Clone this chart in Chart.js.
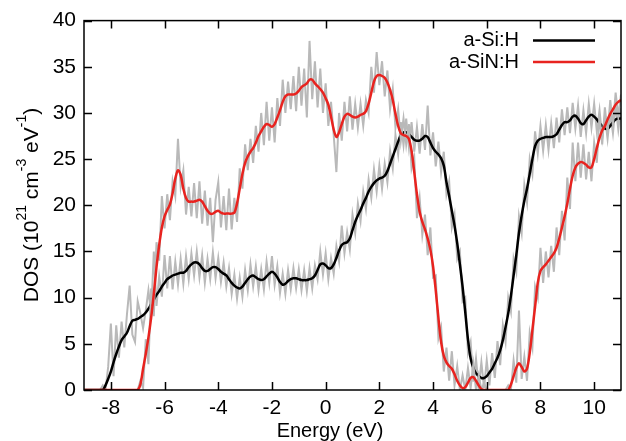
<!DOCTYPE html>
<html>
<head>
<meta charset="utf-8">
<script src="https://cdn.jsdelivr.net/npm/chart.js@4.4.1/dist/chart.umd.min.js"></script>
<style>
  html, body { margin: 0; padding: 0; background: #fff; }
</style>
</head>
<body>
<canvas id="dos" width="626" height="441"></canvas>
<script>
// energy grid (eV), one row per eV
const energies = [
  -9.0,-8.9,-8.8,-8.7,-8.6,-8.5,-8.4,-8.3,-8.2,-8.1,
  -8.0,-7.9,-7.8,-7.7,-7.6,-7.5,-7.4,-7.3,-7.2,-7.1,
  -7.0,-6.9,-6.8,-6.7,-6.6,-6.5,-6.4,-6.3,-6.2,-6.1,
  -6.0,-5.9,-5.8,-5.7,-5.6,-5.5,-5.4,-5.3,-5.2,-5.1,
  -5.0,-4.9,-4.8,-4.7,-4.6,-4.5,-4.4,-4.3,-4.2,-4.1,
  -4.0,-3.9,-3.8,-3.7,-3.6,-3.5,-3.4,-3.3,-3.2,-3.1,
  -3.0,-2.9,-2.8,-2.7,-2.6,-2.5,-2.4,-2.3,-2.2,-2.1,
  -2.0,-1.9,-1.8,-1.7,-1.6,-1.5,-1.4,-1.3,-1.2,-1.1,
  -1.0,-0.9,-0.8,-0.7,-0.6,-0.5,-0.4,-0.3,-0.2,-0.1,
  0.0,0.1,0.2,0.3,0.4,0.5,0.6,0.7,0.8,0.9,
  1.0,1.1,1.2,1.3,1.4,1.5,1.6,1.7,1.8,1.9,
  2.0,2.1,2.2,2.3,2.4,2.5,2.6,2.7,2.8,2.9,
  3.0,3.1,3.2,3.3,3.4,3.5,3.6,3.7,3.8,3.9,
  4.0,4.1,4.2,4.3,4.4,4.5,4.6,4.7,4.8,4.9,
  5.0,5.1,5.2,5.3,5.4,5.5,5.6,5.7,5.8,5.9,
  6.0,6.1,6.2,6.3,6.4,6.5,6.6,6.7,6.8,6.9,
  7.0,7.1,7.2,7.3,7.4,7.5,7.6,7.7,7.8,7.9,
  8.0,8.1,8.2,8.3,8.4,8.5,8.6,8.7,8.8,8.9,
  9.0,9.1,9.2,9.3,9.4,9.5,9.6,9.7,9.8,9.9,
  10.0,10.1,10.2,10.3,10.4,10.5,10.6,10.7,10.8,10.9,
  11.0
];

// a-Si:H, smoothed
const siSmooth = [
  0,0,0,0,0,0,0,0,0.5,1.2,
  2.0,3.0,3.9,4.7,5.4,5.8,6.2,6.9,7.5,7.6,
  7.7,7.9,8.1,8.4,8.8,9.3,9.8,10.3,10.7,11.2,
  11.6,12.0,12.2,12.4,12.5,12.6,12.7,12.7,12.9,13.3,
  13.6,13.8,13.8,13.6,13.2,12.9,12.9,13.1,13.3,13.3,
  13.1,12.8,12.6,12.4,12.0,11.6,11.3,11.1,11.0,11.2,
  11.6,12.0,12.3,12.4,12.2,12.0,11.9,12.0,12.3,12.6,
  12.8,12.6,12.2,11.7,11.4,11.5,11.8,12.0,12.1,12.1,
  12.0,11.9,11.9,11.9,12.0,12.1,12.4,13.0,13.6,13.7,
  13.5,13.2,13.2,13.6,14.3,15.1,15.7,15.9,16.0,16.4,
  17.3,18.2,18.9,19.5,20.2,20.8,21.5,22.0,22.4,22.7,
  22.9,23.0,23.2,23.7,24.5,25.3,26.1,26.9,27.6,27.9,
  27.9,27.7,27.4,27.1,27.0,27.0,27.2,27.5,27.4,26.8,
  26.2,25.8,25.5,25.1,24.3,22.5,21.0,19.4,17.8,15.9,
  13.6,11.2,8.4,5.5,3.4,2.4,1.8,1.5,1.3,1.3,
  1.5,1.9,2.3,2.9,3.5,4.3,5.4,6.8,8.3,10.2,
  12.4,14.6,17.0,18.9,20.5,21.8,23.4,25.0,26.4,27.0,
  27.2,27.3,27.4,27.4,27.4,27.5,27.7,28.2,28.7,29.0,
  29.0,29.2,29.6,29.7,29.4,28.9,28.8,29.2,29.6,29.8,
  29.6,29.3,28.9,28.6,28.3,28.3,28.6,29.0,29.3,29.4,
  29.4
];

// a-Si:H, raw (grey)
const siRaw = [
  0,0,0,0,0,0,0,0.5,0,2.5,
  7.2,1.5,7.0,3.5,7.4,4.6,8.2,11.3,6.0,5.2,
  9.6,8.3,6.7,8.6,10.8,8.2,15.0,9.1,12.3,10.1,
  14.6,11.0,14.5,10.9,13.9,11.4,14.2,11.5,14.5,12.0,
  14.8,12.4,15.0,12.2,14.6,11.6,14.2,12.0,14.9,12.1,
  14.3,11.7,13.8,11.2,13.2,10.4,12.5,9.9,12.2,10.1,
  13.0,10.8,13.6,11.2,13.4,10.8,13.1,10.9,13.9,11.6,
  14.5,11.4,13.4,10.5,12.6,10.4,13.0,10.9,13.2,11.0,
  13.1,10.8,13.0,10.7,13.2,11.0,13.5,12.0,15.0,12.5,
  14.8,12.0,14.3,12.6,15.6,13.9,17.8,14.8,17.1,15.2,
  19.0,17.0,20.2,18.3,21.5,19.6,22.8,20.8,23.9,21.5,
  24.3,21.8,24.5,22.5,25.9,24.0,27.6,25.5,29.0,26.5,
  29.4,26.3,29.0,25.8,28.5,25.6,28.8,26.0,30.8,25.4,
  27.9,24.2,26.9,23.6,25.8,21.2,22.6,17.6,19.0,14.2,
  15.0,9.6,10.0,4.0,5.2,0.9,3.4,0.3,3.0,0.2,
  3.2,0.5,4.0,1.3,5.3,2.7,7.0,5.2,10.0,8.5,
  14.2,12.8,18.8,17.0,22.2,20.3,25.0,23.4,28.0,25.6,
  28.6,25.9,28.7,26.0,28.9,26.2,29.5,26.8,30.4,27.6,
  30.6,27.8,31.1,28.3,30.8,27.4,30.3,27.8,31.0,28.4,
  31.0,28.0,30.3,27.3,29.6,27.2,30.0,27.8,30.8,28.2,
  30.5
];

// a-SiN:H, smoothed
const sinSmooth = [
  0,0,0,0,0,0,0,0,0,0,
  0,0,0,0,0,0,0,0,0,0,
  0,0.6,2.3,3.9,5.7,7.8,10.4,13.3,15.7,17.6,
  18.8,19.5,20.1,21.3,22.9,23.8,23.3,21.8,20.8,20.4,
  20.4,20.4,20.5,20.6,20.4,19.9,19.4,19.1,19.1,19.3,
  19.4,19.2,19.1,19.1,19.1,19.1,19.2,20.2,21.8,23.4,
  24.6,25.3,25.8,26.2,26.8,27.5,28.0,28.5,28.8,28.7,
  28.5,28.8,29.5,30.3,31.2,31.8,32.0,32.0,32.0,32.1,
  32.4,32.8,33.0,33.2,33.6,33.6,33.2,32.9,32.6,32.2,
  31.6,30.9,29.6,28.2,27.4,27.9,28.8,29.6,29.9,29.8,
  29.6,29.5,29.6,29.8,29.9,30.2,31.0,32.2,33.4,34.0,
  34.1,34.0,33.8,33.3,32.5,31.4,29.9,28.6,27.8,27.6,
  27.5,27.2,25.9,23.6,21.2,19.3,18.2,17.4,16.4,15.2,
  13.4,10.8,7.8,5.2,3.7,3.0,2.6,2.3,1.7,1.0,
  0.5,0.2,0.3,0.8,1.3,1.4,1.0,0.5,0.1,0,
  0,0,0,0,0,0,0,0,0,0.6,
  1.5,2.4,2.9,2.5,2.0,2.3,4.0,6.5,9.0,11.6,
  12.9,13.3,13.6,14.0,14.4,14.8,15.4,16.4,17.6,18.8,
  20.2,21.8,23.2,24.1,24.5,24.7,24.6,24.4,24.1,24.1,
  25.0,26.2,27.3,28.1,28.6,29.3,29.9,30.4,30.9,31.2,
  31.4
];

// a-SiN:H, raw (grey)
const sinRaw = [
  0,0,0,0,0,0,0,0,0,0,
  0,0,0,0,0,0,0,0,0,0,
  0,1.0,0.2,5.5,2.8,11.0,8.0,16.0,14.0,21.0,
  17.5,21.2,18.4,22.6,21.0,27.2,22.0,23.8,19.0,22.0,
  18.8,22.4,18.6,22.6,18.0,21.6,17.8,20.8,16.0,20.6,
  22.5,17.6,21.0,17.3,21.8,17.4,20.8,18.2,24.0,21.8,
  26.6,23.8,27.2,24.6,28.6,25.8,30.0,26.5,31.2,27.0,
  30.6,26.8,31.6,28.6,33.6,30.0,33.4,30.4,34.0,30.2,
  35.0,30.8,34.8,29.5,37.8,31.5,35.6,30.6,34.8,30.0,
  33.2,28.6,31.2,27.6,23.6,30.0,27.0,31.2,28.0,31.8,
  28.2,31.0,28.4,31.0,28.6,31.4,30.0,35.0,32.2,36.6,
  33.0,35.6,31.8,34.6,30.4,32.6,28.4,30.4,27.0,29.4,
  26.6,28.8,24.0,25.2,18.6,20.8,16.8,19.0,14.6,17.6,
  12.2,12.4,5.6,6.8,2.0,4.6,1.0,4.2,0.5,2.6,
  0,1.6,0,2.4,0.2,2.8,0,1.6,0,0.8,
  0,0,0,0,0,0,0,0,0.5,0,
  3.2,0.8,8.6,1.2,3.6,1.0,6.2,4.6,11.2,10.0,
  15.4,11.6,15.0,12.2,15.6,12.8,17.6,14.6,19.4,16.2,
  23.0,19.6,26.8,22.6,26.8,23.0,26.6,22.8,25.8,22.6,
  26.8,24.6,29.8,26.6,30.6,27.8,31.4,28.6,32.2,29.6,
  32.0
];

const xTicks = [-8, -6, -4, -2, 0, 2, 4, 6, 8, 10];
const yTicks = [0, 5, 10, 15, 20, 25, 30, 35, 40];
const seriesNames = ['a-Si:H', 'a-SiN:H'];

const FONT = '"Liberation Sans", Arial, Helvetica, sans-serif';
const RED = '#e8231f';
const GREY = '#b9b9b9';

function pts(vals) {
    return energies.map((e, i) => ({ x: e, y: vals[i] }));
}

// frame, inward ticks, axis titles and legend, gnuplot style
const decor = {
    id: 'decor',
    afterDraw: function(chart) {
        const ctx = chart.ctx;
        const a = chart.chartArea;
        const sx = chart.scales.x;
        const sy = chart.scales.y;
        ctx.save();
        ctx.strokeStyle = '#000';
        ctx.lineWidth = 1.5;
        ctx.strokeRect(a.left, a.top, a.right - a.left, a.bottom - a.top);
        ctx.beginPath();
        xTicks.forEach(v => {
            const px = Math.round(sx.getPixelForValue(v)) + 0.5;
            ctx.moveTo(px, a.bottom); ctx.lineTo(px, a.bottom - 8);
            ctx.moveTo(px, a.top); ctx.lineTo(px, a.top + 8);
        });
        yTicks.forEach(v => {
            const py = Math.round(sy.getPixelForValue(v)) + 0.5;
            ctx.moveTo(a.left, py); ctx.lineTo(a.left + 8, py);
            ctx.moveTo(a.right, py); ctx.lineTo(a.right - 8, py);
        });
        ctx.stroke();

        ctx.fillStyle = '#000';
        ctx.font = '20px ' + FONT;
        ctx.textAlign = 'center';
        ctx.textBaseline = 'alphabetic';
        ctx.fillText('Energy (eV)', 330, 437);

        // y title with superscripts
        const parts = [
            ['DOS (10', false], ['21', true], [' cm', false], ['-3', true],
            [' eV', false], ['-1', true], [')', false]
        ];
        const big = '21px ' + FONT, small = '14px ' + FONT;
        let total = 0;
        parts.forEach(p => { ctx.font = p[1] ? small : big; total += ctx.measureText(p[0]).width; });
        ctx.translate(38, 205);
        ctx.rotate(-Math.PI / 2);
        ctx.textAlign = 'left';
        let cx = -total / 2;
        parts.forEach(p => {
            ctx.font = p[1] ? small : big;
            ctx.fillText(p[0], cx, p[1] ? -12.5 : 0);
            cx += ctx.measureText(p[0]).width;
        });
        ctx.setTransform(1, 0, 0, 1, 0, 0);

        // legend
        ctx.font = '20px ' + FONT;
        ctx.textAlign = 'right';
        ctx.textBaseline = 'middle';
        const colors = ['#000', RED];
        seriesNames.forEach((name, i) => {
            const y = 40.5 + i * 21.5;
            ctx.fillStyle = '#000';
            ctx.fillText(name, 519, y);
            ctx.strokeStyle = colors[i];
            ctx.lineWidth = 2.5;
            ctx.beginPath();
            ctx.moveTo(533, y); ctx.lineTo(595, y);
            ctx.stroke();
        });
        ctx.restore();
    }
};

document.addEventListener('DOMContentLoaded', function() {
    const ctx = document.getElementById('dos').getContext('2d');
    new Chart(ctx, {
        type: 'line',
        data: {
            datasets: [
                { label: seriesNames[0] + ' raw', data: pts(siRaw), borderColor: GREY, borderWidth: 2, tension: 0, order: 4 },
                { label: seriesNames[0], data: pts(siSmooth), borderColor: '#000', borderWidth: 2.5, tension: 0.3, order: 3 },
                { label: seriesNames[1] + ' raw', data: pts(sinRaw), borderColor: GREY, borderWidth: 2, tension: 0, order: 2 },
                { label: seriesNames[1], data: pts(sinSmooth), borderColor: RED, borderWidth: 2.5, tension: 0.3, order: 1 }
            ]
        },
        options: {
            responsive: false,
            animation: false,
            elements: { point: { radius: 0 } },
            layout: { padding: { top: 20, right: 5, left: 0, bottom: 0 } },
            plugins: { legend: { display: false }, tooltip: { enabled: false } },
            scales: {
                x: {
                    type: 'linear',
                    min: -9, max: 11,
                    grid: { display: false, drawTicks: false },
                    border: { display: false },
                    afterBuildTicks: s => { s.ticks = xTicks.map(v => ({ value: v })); },
                    afterFit: s => { s.height = 51; },
                    ticks: { color: '#000', font: { size: 21, family: FONT }, padding: 6, maxRotation: 0 }
                },
                y: {
                    min: 0, max: 40,
                    grid: { display: false, drawTicks: false },
                    border: { display: false },
                    afterBuildTicks: s => { s.ticks = yTicks.map(v => ({ value: v })); },
                    afterFit: s => { s.width = 84; },
                    ticks: { color: '#000', font: { size: 21, family: FONT }, padding: 8 }
                }
            }
        },
        plugins: [decor]
    });
});
</script>
</body>
</html>
